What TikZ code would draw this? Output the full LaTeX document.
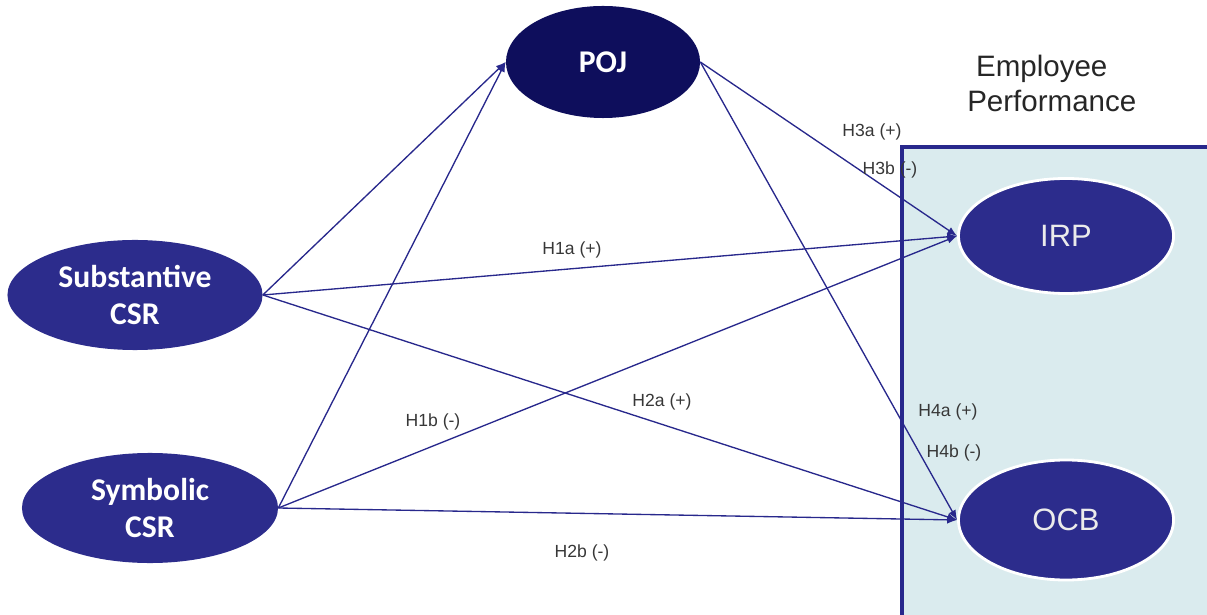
\documentclass[tikz,border=0pt]{standalone}
\usepackage{fontspec}
\setmainfont{Liberation Sans}
\newfontfamily\calfont{Carlito}
\usetikzlibrary{shapes,arrows.meta,positioning,fit}
\definecolor{csrblue}{RGB}{44,44,140}
\definecolor{pojblue}{RGB}{14,14,92}
\definecolor{linkblue}{RGB}{40,40,140}
\definecolor{perfbg}{RGB}{218,235,238}
\definecolor{labelgray}{RGB}{55,55,55}

\begin{document}
\begin{tikzpicture}[
    x=0.025cm, y=-0.025cm,
    construct/.style={ellipse,fill=csrblue,text=white,inner sep=0pt,align=center,font=\calfont\bfseries\fontsize{22.5}{26}\selectfont},
    outcome/.style={ellipse,fill=csrblue,draw=white,line width=2pt,text=white!92!black,inner sep=0pt,minimum width=5.375cm,font=\fontsize{22}{26}\selectfont},
    hyp/.style={text=labelgray,font=\fontsize{12.5}{14}\selectfont,inner sep=1pt},
    link/.style={-{Latex[length=7pt,width=5.5pt]},draw=linkblue,line width=0.95pt}
]
    \useasboundingbox (0,0) rectangle (1207,615);
    % performance box
    \fill[perfbg] (902,147) rectangle (1207,615);
    \draw[linkblue,line width=2.6pt] (902,615) -- (902,147) -- (1207,147);
    \node[align=left,anchor=north west,inner sep=0pt,text=black!85,font=\fontsize{21}{25}\selectfont] (perf) at (967,55) {\hspace*{0.22cm}Employee\\Performance};

    \node[construct,fill=pojblue,minimum width=4.85cm,minimum height=2.8cm] (poj) at (603,62) {POJ};
    \node[construct,minimum width=6.375cm,minimum height=2.75cm] (subst) at (135,295) {Substantive\\CSR};
    \node[construct,minimum width=6.4cm,minimum height=2.75cm] (symb) at (150,508) {Symbolic\\CSR};
    \node[outcome,minimum height=2.875cm] (irp) at (1066,236) {IRP};
    \node[outcome,minimum height=3cm] (ocb) at (1066,520) {OCB};

    \draw[link] (subst.east) -- (poj.west);
    \draw[link] (symb.east) -- (poj.west);
    \draw[link] (subst.east) -- (irp.west);
    \draw[link] (subst.east) -- (ocb.west);
    \draw[link] (symb.east) -- (irp.west);
    \draw[link] (symb.east) -- (ocb.west);
    \draw[link] (poj.east) -- (irp.west);
    \draw[link] (poj.east) -- (ocb.west);

    % hypothesis labels
    \node[hyp] (h1a) at (572,250) {H1a (+)};
    \node[hyp] (h1b) at (433,422) {H1b (-)};
    \node[hyp] (h2a) at (662,402) {H2a (+)};
    \node[hyp] (h2b) at (582,553) {H2b (-)};
    \node[hyp] (h3a) at (872,132) {H3a (+)};
    \node[hyp] (h3b) at (890,170) {H3b (-)};
    \node[hyp] (h4a) at (948,412) {H4a (+)};
    \node[hyp] (h4b) at (954,453) {H4b (-)};
\end{tikzpicture}
\end{document}
